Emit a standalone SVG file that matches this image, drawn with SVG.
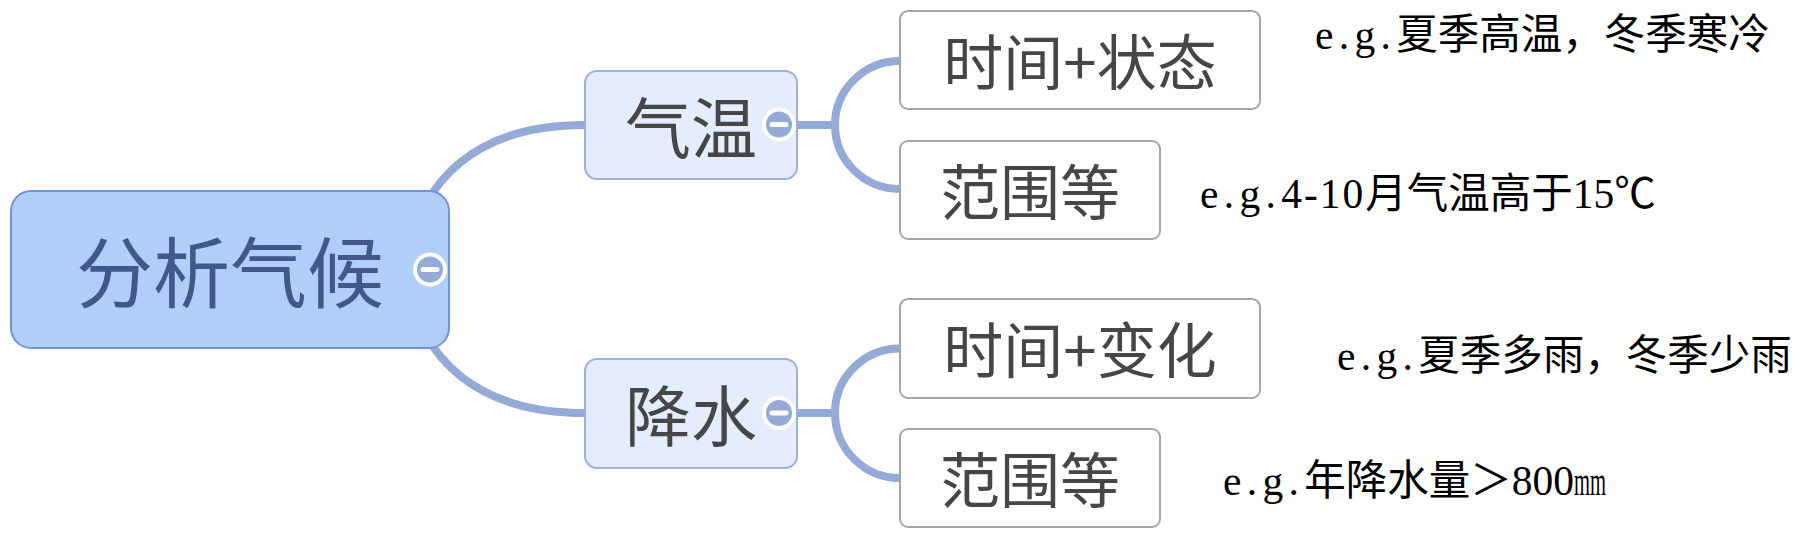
<svg xmlns="http://www.w3.org/2000/svg" width="1800" height="538" viewBox="0 0 1800 538">
<style>
.conn{fill:none;stroke:#95aad7;stroke-width:8}
.root rect{fill:#b1cefb;stroke:#6f95d9;stroke-width:2}
.main rect{fill:#e3edfd;stroke:#9bb2df;stroke-width:2}
.sub rect{fill:#ffffff;stroke:#a6a6a6;stroke-width:2}
.t{font-family:"Noto Sans CJK SC","Noto Sans",sans-serif;text-anchor:middle}
.main text,.sub text{fill:#464646}
.note{font-family:"Noto Sans CJK SC",sans-serif;font-size:41.5px;fill:#000}
.lat{font-family:"Liberation Serif",serif}
.eg{letter-spacing:5.3px}
.coll circle{fill:#95aad7;stroke:#ffffff;stroke-width:4}
.coll line{stroke:#ffffff;stroke-width:5;stroke-linecap:round}
</style>
<rect width="1800" height="538" fill="#ffffff"/>
<g id="connectors">
<path class="conn" d="M425 205 Q470 125 585 125"/>
<path class="conn" d="M425 334 Q470 413 585 413"/>
<path class="conn" d="M797 125 H835 M835 125 A65 64 0 0 1 900 61 M835 125 A65 64 0 0 0 900 189"/>
<path class="conn" d="M797 413 H835 M835 413 A65 64.5 0 0 1 900 348.5 M835 413 A65 65 0 0 0 900 478"/>
</g>
<g id="root" class="root">
<rect x="11" y="191" width="438" height="157" rx="20"/>
<text class="t" x="230" y="302" font-size="77" fill="#42588b">分析气候</text>
<g class="coll"><circle cx="430" cy="269.5" r="15"/><line x1="423" y1="269.5" x2="437" y2="269.5"/></g>
</g>
<g id="qiwen" class="main">
<rect x="585" y="71" width="212" height="108" rx="12"/>
<text class="t" x="691" y="153" font-size="66">气温</text>
<g class="coll"><circle cx="779" cy="124.5" r="15"/><line x1="772" y1="124.5" x2="786" y2="124.5"/></g>
</g>
<g id="jiangshui" class="main">
<rect x="585" y="359" width="212" height="109" rx="12"/>
<text class="t" x="691" y="441" font-size="66">降水</text>
<g class="coll"><circle cx="779" cy="413" r="15"/><line x1="772" y1="413" x2="786" y2="413"/></g>
</g>
<g id="qw-time" class="sub">
<rect x="900" y="11" width="360" height="98" rx="8"/>
<text class="t" x="1080" y="85" font-size="60">时间+状态</text>
</g>
<g id="qw-range" class="sub">
<rect x="900" y="141" width="260" height="98" rx="8"/>
<text class="t" x="1030" y="215" font-size="60">范围等</text>
</g>
<g id="js-time" class="sub">
<rect x="900" y="299" width="360" height="99" rx="8"/>
<text class="t" x="1080" y="373" font-size="60">时间+变化</text>
</g>
<g id="js-range" class="sub">
<rect x="900" y="429" width="260" height="98" rx="8"/>
<text class="t" x="1030" y="503" font-size="60">范围等</text>
</g>
<g id="notes">
<text class="note" x="1315" y="49"><tspan class="lat eg">e.g.</tspan>夏季高温，冬季寒冷</text>
<text class="note" x="1200" y="208"><tspan class="lat eg">e.g.</tspan><tspan class="lat" letter-spacing="2">4-10</tspan>月气温高于<tspan class="lat">15</tspan>℃</text>
<text class="note" x="1337" y="370"><tspan class="lat eg">e.g.</tspan>夏季多雨，冬季少雨</text>
<text class="note" x="1223" y="495"><tspan class="lat eg">e.g.</tspan>年降水量＞<tspan class="lat">800</tspan><tspan class="lat" textLength="32" lengthAdjust="spacingAndGlyphs">mm</tspan></text>
</g>
</svg>
